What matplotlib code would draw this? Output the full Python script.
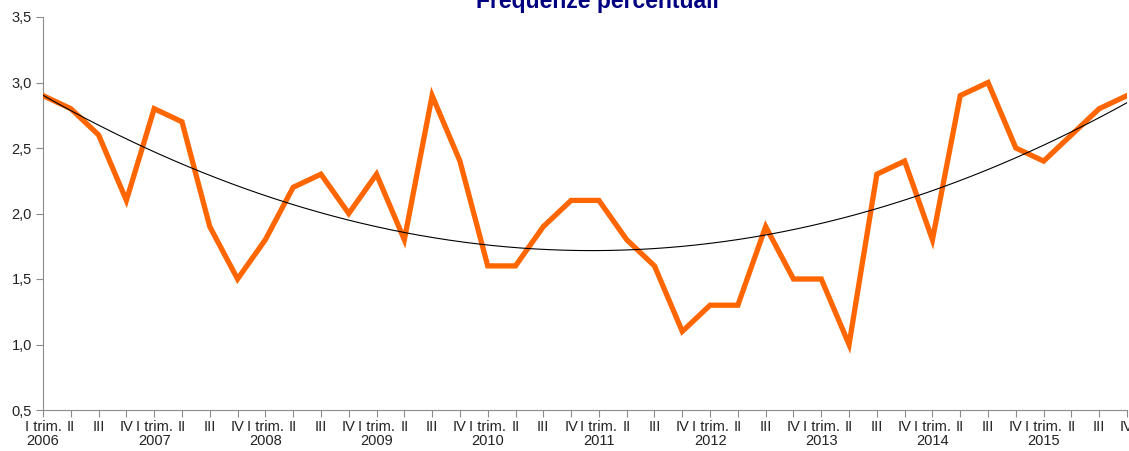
import numpy as np
from matplotlib import pyplot as plt

plt.rcParams['font.family'] = ['Liberation Sans', 'DejaVu Sans']

years = ['2006', '2007', '2008', '2009', '2010',
         '2011', '2012', '2013', '2014', '2015']
quarters = ['I trim.', 'II', 'III', 'IV']

values = [2.9, 2.8, 2.6, 2.1,
          2.8, 2.7, 1.9, 1.5,
          1.8, 2.2, 2.3, 2.0,
          2.3, 1.8, 2.9, 2.4,
          1.6, 1.6, 1.9, 2.1,
          2.1, 1.8, 1.6, 1.1,
          1.3, 1.3, 1.9, 1.5,
          1.5, 1.0, 2.3, 2.4,
          1.8, 2.9, 3.0, 2.5,
          2.4, 2.6, 2.8, 2.9]

yticks = [0.5, 1.0, 1.5, 2.0, 2.5, 3.0, 3.5]


def tick_labels():
    labels = []
    for y in years:
        for q in quarters:
            if q == 'I trim.':
                labels.append(q + '\n' + y)
            else:
                labels.append(q)
    return labels


if __name__ == '__main__':
    fig = plt.figure(figsize=(11.29, 4.51), dpi=100)
    ax = fig.add_axes([43 / 1129, 1 - 410 / 451, 1084 / 1129, 393 / 451])

    x = np.arange(len(values))
    ax.plot(x, values, color='#FF6600', lw=3.8, solid_joinstyle='miter', zorder=3)

    # quadratic trend, as Excel does
    coef = np.polyfit(x, values, 2)
    xs = np.linspace(0, len(values) - 1, 300)
    ax.plot(xs, np.polyval(coef, xs), color='black', lw=0.8, zorder=4)

    ax.set_xlim(0, len(values) - 1)
    ax.set_ylim(0.5, 3.5)
    ax.set_yticks(yticks)
    ax.set_yticklabels([('%.1f' % v).replace('.', ',') for v in yticks])
    ax.set_xticks(x)
    ax.set_xticklabels(tick_labels(), linespacing=1.0)

    for s in ['top', 'right']:
        ax.spines[s].set_visible(False)
    for s in ['left', 'bottom']:
        ax.spines[s].set_color('#8c8c8c')
    ax.tick_params(axis='both', colors='#8c8c8c', labelcolor='#222222',
                   labelsize=10.5, length=5, direction='out')
    ax.tick_params(axis='x', pad=2)
    ax.tick_params(axis='y', pad=3)
    for lab in ax.get_xticklabels():
        lab.set_clip_on(False)

    fig.text(597 / 1129, 1 - 8 / 451, 'Frequenze percentuali', color='#000080',
             fontsize=16.5, fontweight='bold', ha='center', va='baseline')

    plt.savefig('out.png', dpi=100)
